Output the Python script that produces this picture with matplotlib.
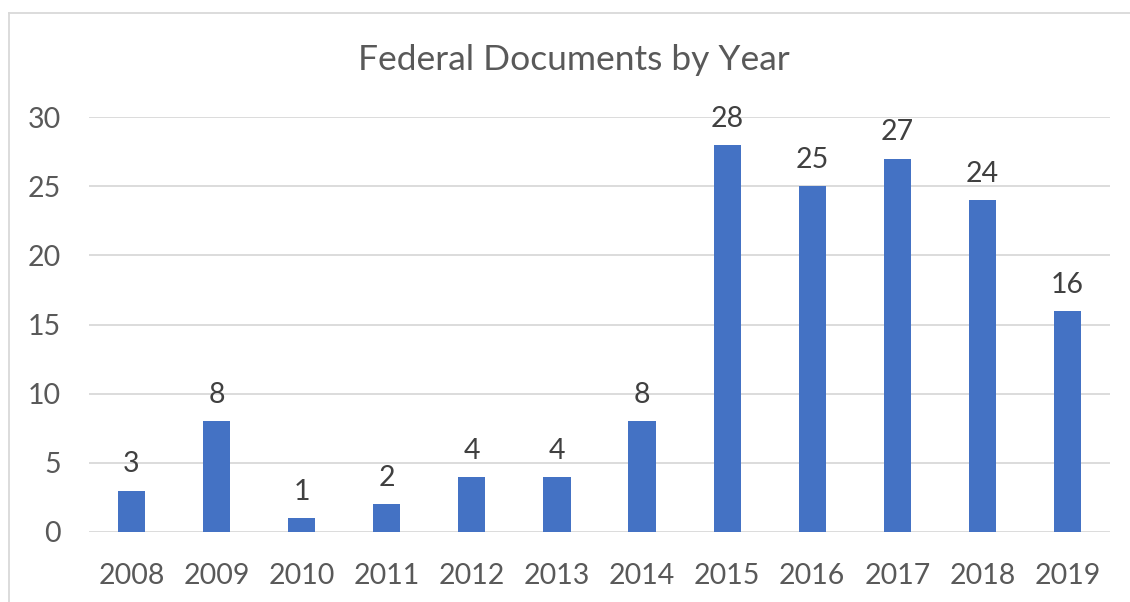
import matplotlib.pyplot as plt
from matplotlib.lines import Line2D

years = ['2008', '2009', '2010', '2011', '2012', '2013', '2014', '2015', '2016', '2017', '2018', '2019']
counts = [3, 8, 1, 2, 4, 4, 8, 28, 25, 27, 24, 16]
y_ticks = [0, 5, 10, 15, 20, 25, 30]

plt.rcParams['font.family'] = ['Lato', 'DejaVu Sans']
text_color = '#595959'

fig = plt.figure(figsize=(11.3, 6.02), dpi=100)
ax = fig.add_axes([89 / 1130, 1 - 532 / 602, (1110 - 89) / 1130, (532 - 117) / 602])

x = range(len(years))
bars = ax.bar(x, counts, width=0.32, color='#4472C4', zorder=3)
for b, v in zip(bars, counts):
    ax.text(b.get_x() + b.get_width() / 2, v + 0.95, str(v), ha='center', va='bottom',
            fontsize=20.5, color='#404040')

ax.set_xlim(-0.5, len(years) - 0.5)
ax.set_ylim(0, 30)
ax.set_yticks(y_ticks)
ax.set_xticks(list(x))
ax.set_xticklabels(years)
ax.grid(axis='y', color='#D9D9D9', linewidth=1.3, zorder=0)
for s in ax.spines.values():
    s.set_visible(False)
ax.tick_params(length=0, labelsize=20.5, labelcolor=text_color)
ax.tick_params(axis='y', pad=20)
ax.tick_params(axis='x', pad=22)

fig.text(574 / 1130, 1 - 60 / 602, 'Federal Documents by Year', ha='center', va='center',
         fontsize=25.5, color=text_color)

# outer chart frame (top and left edges visible)
fig.add_artist(Line2D([9 / 1130, 1.0], [1 - 13 / 602, 1 - 13 / 602], color='#D9D9D9', linewidth=1.3))
fig.add_artist(Line2D([9 / 1130, 9 / 1130], [0, 1 - 13 / 602], color='#D9D9D9', linewidth=1.3))

fig.savefig('out.png', dpi=100)
